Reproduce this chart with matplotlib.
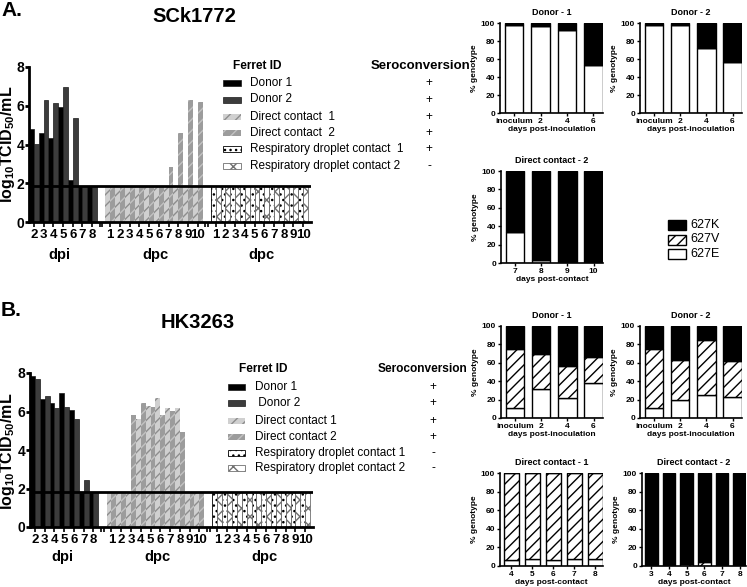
import matplotlib
matplotlib.use('Agg')
import matplotlib.pyplot as plt
from matplotlib.patches import Rectangle
import numpy as np

# ---------------- data ----------------
LOD = 1.84
dpi_days = [2, 3, 4, 5, 6, 7, 8]
dpc_days = [1, 2, 3, 4, 5, 6, 7, 8, 9, 10]

A_donor1 = [4.8, 4.6, 4.35, 5.95, 2.15, 1.84, 1.84]
A_donor2 = [4.05, 6.3, 6.15, 6.95, 5.38, 1.84, 1.84]
A_dc1 = [1.84, 1.84, 1.84, 1.84, 1.84, 1.84, 1.84, 1.84, 1.84, 1.84]
A_dc2 = [1.84, 1.84, 1.84, 1.84, 1.84, 1.84, 2.85, 4.57, 6.3, 6.2]
A_rd1 = [1.84, 1.84, 1.84, 1.84, 1.84, 1.84, 1.84, 1.84, 1.84, 1.84]
A_rd2 = [1.84, 1.84, 1.84, 1.84, 1.84, 1.84, 1.84, 1.84, 1.84, 1.84]

B_donor1 = [7.83, 6.64, 6.45, 6.97, 6.09, 1.84, 1.84]
B_donor2 = [7.69, 6.79, 6.19, 6.24, 5.62, 2.45, 1.84]
B_dc1 = [1.84, 1.84, 1.84, 5.6, 6.3, 6.7, 6.2, 6.2, 1.84, 1.84]
B_dc2 = [1.84, 1.84, 5.8, 6.45, 6.22, 5.8, 6.05, 4.95, 1.84, 1.84]
B_rd1 = [1.84, 1.84, 1.84, 1.84, 1.84, 1.84, 1.84, 1.84, 1.84, 1.84]
B_rd2 = [1.84, 1.84, 1.84, 1.84, 1.84, 1.84, 1.84, 1.84, 1.84, 1.84]

ferret_ids_A = ['Donor 1', 'Donor 2', 'Direct contact  1', 'Direct contact  2',
                'Respiratory droplet contact  1', 'Respiratory droplet contact 2']
sero_A = ['+', '+', '+', '+', '+', '-']
ferret_ids_B = ['Donor 1', ' Donor 2', 'Direct contact 1', 'Direct contact 2',
                'Respiratory droplet contact 1', 'Respiratory droplet contact 2']
sero_B = ['+', '+', '+', '+', '-', '-']

# genotype data (% 627E, % 627V, % 627K)
don_labels = ['inoculum', '2', '4', '6']
A_d1_E = [98, 97, 92, 53]
A_d1_V = [0, 0, 0, 0]
A_d1_K = [2, 3, 8, 47]
A_d2_E = [98, 97.5, 72.5, 56.5]
A_d2_V = [0, 0, 0, 0]
A_d2_K = [2, 2.5, 27.5, 43.5]
A_dc2_labels = ['7', '8', '9', '10']
A_dc2_E = [33.5, 3, 0, 0]
A_dc2_V = [0, 0, 0, 0]
A_dc2_K = [66.5, 97, 100, 100]

B_d1_E = [11, 32, 22, 38]
B_d1_V = [64, 37.5, 35, 28.5]
B_d1_K = [25, 30.5, 43, 33.5]
B_d2_E = [11, 19.5, 25, 23]
B_d2_V = [63.5, 43.5, 60, 39]
B_d2_K = [25.5, 37, 15, 38]
B_dc1_labels = ['4', '5', '6', '7', '8']
B_dc1_E = [6.5, 8, 6, 7.5, 7.5]
B_dc1_V = [93.5, 92, 94, 92.5, 92.5]
B_dc1_K = [0, 0, 0, 0, 0]
B_dc2_labels = ['3', '4', '5', '6', '7', '8']
B_dc2_E = [0, 0, 0, 0, 0, 0]
B_dc2_V = [0, 0, 2.5, 4, 0, 0]
B_dc2_K = [100, 100, 97.5, 96, 100, 100]

geno_legend = ['627K', '627V', '627E']

# ---------------- style ----------------
W, H = 747, 587
plt.rcParams['font.family'] = ['Liberation Sans', 'DejaVu Sans']
plt.rcParams['hatch.linewidth'] = 1.0
plt.rcParams['mathtext.fontset'] = 'custom'
plt.rcParams['mathtext.rm'] = 'Liberation Sans:bold'
plt.rcParams['mathtext.it'] = 'Liberation Sans:bold'
plt.rcParams['mathtext.bf'] = 'Liberation Sans:bold'

fig = plt.figure(figsize=(W / 100, H / 100), dpi=100)


def add_ax(l, r, t, b):
    return fig.add_axes([l / W, 1 - b / H, (r - l) / W, (b - t) / H])


def ftext(x, y, s, **kw):
    fig.text(x / W, 1 - y / H, s, **kw)


def frect(x0, x1, yc, h, **kw):
    rect = Rectangle((x0 / W, 1 - (yc + h / 2) / H), (x1 - x0) / W, h / H,
                     transform=fig.transFigure, **kw)
    fig.add_artist(rect)


styles = [
    dict(facecolor='black', edgecolor='#1a1a1a', lw=0.5),
    dict(facecolor='#3c3c3c', edgecolor='#1a1a1a', lw=0.5),
    dict(facecolor='#d0d0d0', edgecolor='#8e8e8e', hatch='///', lw=0),
    dict(facecolor='#9c9c9c', edgecolor='#c2c2c2', hatch='///', lw=0),
    dict(facecolor='white', edgecolor='black', hatch='...', lw=0.6),
    dict(facecolor='white', edgecolor='#707070', hatch='xx', lw=0.6),
]

offsets = [0.0, 7.85, 18.7]


def main_chart(ax, series, ylab_y):
    groups = [(offsets[0], dpi_days, series[0], series[1], styles[0], styles[1]),
              (offsets[1], dpc_days, series[2], series[3], styles[2], styles[3]),
              (offsets[2], dpc_days, series[4], series[5], styles[4], styles[5])]
    ticks, labels = [], []
    for off, days, s1, s2, st1, st2 in groups:
        idx = np.arange(len(days))
        ax.bar(off + idx + 0.25, s1, width=0.5, **st1)
        ax.bar(off + idx + 0.75, s2, width=0.5, **st2)
        ticks += list(off + idx + 0.5)
        labels += [str(d) for d in days]
    ax.axhline(LOD, color='black', lw=2, zorder=5)
    ax.set_xlim(0, 29.0)
    ax.set_ylim(0, 8)
    ax.set_xticks(ticks)
    ax.set_xticklabels(labels, fontsize=9.5, fontweight='bold')
    brk = []
    for c in [(7 + offsets[1]) / 2, (offsets[1] + 10 + offsets[2]) / 2]:
        brk += [c - 0.13, c + 0.13]
    ax.set_xticks(brk, minor=True)
    ax.tick_params(axis='x', which='both', length=3.5, width=1.2, pad=1.5)
    ax.set_yticks([0, 2, 4, 6, 8])
    ax.set_yticklabels(['0', '2', '4', '6', '8'], fontsize=10, fontweight='bold')
    ax.tick_params(axis='y', length=3, width=2, pad=0.5)
    for s in ['top', 'right']:
        ax.spines[s].set_visible(False)
    for s in ['left', 'bottom']:
        ax.spines[s].set_linewidth(2)
    ftext(8, ylab_y, r'log$_{10}$TCID$_{50}$/mL', fontsize=11.5, fontweight='bold',
          rotation=90, ha='center', va='center')


def legend_block(px0, px1, tx, rows, ids, seros, sx, fid_x, fid_y, sero_cx, sero_fs):
    ftext(fid_x, fid_y, 'Ferret ID', fontsize=8.6, fontweight='bold', ha='left', va='center')
    ftext(sero_cx, fid_y, 'Seroconversion', fontsize=sero_fs, fontweight='bold', ha='center', va='center')
    for y, lab, sg, st in zip(rows, ids, seros, styles):
        frect(px0, px1, y, 6, **st)
        ftext(tx, y, lab, fontsize=8.5, ha='left', va='center')
        ftext(sx, y, sg, fontsize=8.5, ha='center', va='center')


def geno(l, r, t, b, labels, E, V, K, title, xlabel):
    ax = add_ax(l, r, t, b)
    x = np.arange(len(labels))
    E = np.array(E, float); V = np.array(V, float); K = np.array(K, float)
    ax.bar(x, E, 0.7, color='white', edgecolor='black', lw=1)
    ax.bar(x, V, 0.7, bottom=E, color='white', edgecolor='black', hatch='///', lw=1)
    ax.bar(x, K, 0.7, bottom=E + V, color='black', edgecolor='black', lw=1)
    ax.set_xlim(-0.53, len(labels) - 1 + 0.36)
    ax.set_ylim(0, 100)
    ax.set_xticks(x)
    ax.set_xticklabels(labels, fontsize=6, fontweight='bold')
    ax.set_yticks([0, 20, 40, 60, 80, 100])
    ax.set_yticklabels(['0', '20', '40', '60', '80', '100'], fontsize=6, fontweight='bold')
    ax.tick_params(length=2.5, width=1, pad=1)
    for s in ['top', 'right']:
        ax.spines[s].set_visible(False)
    for s in ['left', 'bottom']:
        ax.spines[s].set_linewidth(1.2)
    ax.set_title(title, fontsize=6.5, fontweight='bold', pad=6)
    ax.set_xlabel(xlabel, fontsize=6, fontweight='bold', labelpad=1)
    ax.set_ylabel('% genotype', fontsize=6, fontweight='bold', labelpad=2)
    return ax


# ---------------- Panel A ----------------
ftext(1, 11, 'A.', fontsize=15, fontweight='bold', ha='left', va='center')
ftext(194, 17, 'SCk1772', fontsize=14.5, fontweight='bold', ha='center', va='center')
axA = add_ax(29, 311, 67, 222)
main_chart(axA, [A_donor1, A_donor2, A_dc1, A_dc2, A_rd1, A_rd2], 144)
for xx, s in zip([59, 155, 261], ['dpi', 'dpc', 'dpc']):
    ftext(xx, 255, s, fontsize=10.5, fontweight='bold', ha='center', va='center')
legend_block(223, 241, 250, [83, 99.5, 117, 133, 149, 166], ferret_ids_A, sero_A,
             429, 233, 66, 421, 9.5)

geno(500, 603, 23, 113, don_labels, A_d1_E, A_d1_V, A_d1_K, 'Donor - 1', 'days post-inoculation')
geno(640, 742, 23, 113, don_labels, A_d2_E, A_d2_V, A_d2_K, 'Donor - 2', 'days post-inoculation')
geno(501, 603, 171, 263, A_dc2_labels, A_dc2_E, A_dc2_V, A_dc2_K, 'Direct contact - 2', 'days post-contact')

# genotype legend
gl_rows = [225, 239.5, 254]
gl_styles = [dict(facecolor='black', edgecolor='black', lw=1),
             dict(facecolor='white', edgecolor='black', hatch='///', lw=1),
             dict(facecolor='white', edgecolor='black', lw=1)]
for y, lab, st in zip(gl_rows, geno_legend, gl_styles):
    frect(668, 686, y, 10, **st)
    ftext(690, y, lab, fontsize=9, ha='left', va='center')

# ---------------- Panel B ----------------
ftext(1, 311, 'B.', fontsize=15, fontweight='bold', ha='left', va='center')
ftext(198, 322, 'HK3263', fontsize=14.5, fontweight='bold', ha='center', va='center')
axB = add_ax(30, 313, 373, 527)
main_chart(axB, [B_donor1, B_donor2, B_dc1, B_dc2, B_rd1, B_rd2], 451)
for xx, s in zip([62, 157, 264], ['dpi', 'dpc', 'dpc']):
    ftext(xx, 557, s, fontsize=10.5, fontweight='bold', ha='center', va='center')
legend_block(228, 245, 255, [387, 403, 421, 437, 453, 468], ferret_ids_B, sero_B,
             433, 239, 369, 422, 8.6)

geno(501, 603, 326, 418, don_labels, B_d1_E, B_d1_V, B_d1_K, 'Donor - 1', 'days post-inoculation')
geno(640, 742, 326, 418, don_labels, B_d2_E, B_d2_V, B_d2_K, 'Donor - 2', 'days post-inoculation')
geno(500, 603, 473, 566, B_dc1_labels, B_dc1_E, B_dc1_V, B_dc1_K, 'Direct contact - 1', 'days post-contact')
geno(642, 746, 473, 566, B_dc2_labels, B_dc2_E, B_dc2_V, B_dc2_K, 'Direct contact - 2', 'days post-contact')

fig.savefig('out.png', dpi=100)
